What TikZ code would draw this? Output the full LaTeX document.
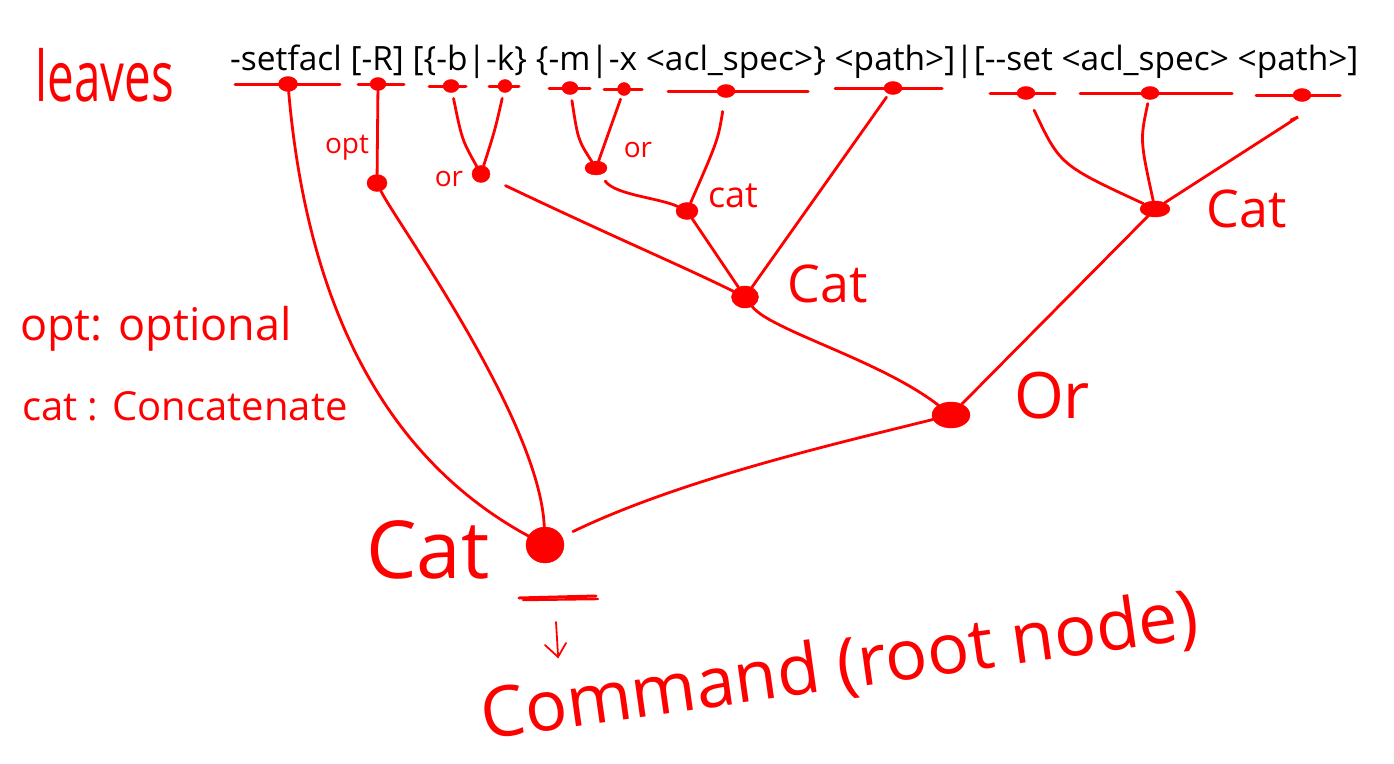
\documentclass[tikz,border=0pt]{standalone}
\usepackage{fontspec}
\setmainfont{Open Sans}
\newfontfamily\codefont{Open Sans}
\usetikzlibrary{calc,shapes.geometric}
\definecolor{ink}{RGB}{255,0,0}

\begin{document}
\begin{tikzpicture}[x=1pt,y=-1pt,
  wire/.style={ink, line width=2.8pt, line cap=round},
  bar/.style={ink, line width=3pt, line cap=round},
  leafdot/.style={ellipse, fill=ink, draw=ink, inner sep=0pt,
                  minimum width=16pt, minimum height=13pt},
  joint/.style={ellipse, fill=ink, draw=ink, inner sep=0pt,
                minimum width=20pt, minimum height=17pt},
  hand/.style={ink, inner sep=0pt, anchor=center}
]
\useasboundingbox[fill=white] (0,0) rectangle (1394,763);

% command line whose tokens are the leaves
\node[anchor=base west, inner sep=0pt] (cmdline) at (230,70)
  {\resizebox{1128pt}{!}{\codefont -setfacl [-R] [\{-b|-k\} \{-m|-x <acl\_spec>\} <path>]|[-{}-set <acl\_spec> <path>]}};

% leaves
\node[leafdot, minimum width=19pt, minimum height=15pt] (L1) at (288,84) {};
\node[leafdot] (L2) at (378,84) {};
\node[leafdot] (L3) at (451,86) {};
\node[leafdot, minimum width=14pt] (L4) at (505,86) {};
\node[leafdot] (L5) at (570,88) {};
\node[leafdot, minimum width=13pt] (L6) at (624,89) {};
\node[leafdot, minimum width=18pt] (L7) at (726,91) {};
\node[leafdot, minimum width=18pt] (L8) at (893,88) {};
\node[leafdot, minimum width=18pt] (L9) at (1026,93) {};
\node[leafdot, minimum width=18pt] (L10) at (1150,93) {};
\node[leafdot, minimum width=18pt] (L11) at (1302,95) {};

% baseline strokes under each leaf
\foreach \n/\a/\b in {L1/53/52, L2/20/26, L3/22/15, L4/16/14, L5/21/20,
                      L6/20/18, L7/58/82, L8/58/49, L9/36/29, L10/70/82, L11/46/38}
  \draw[bar] ($(\n)+(-\a,0)$) -- ($(\n)+(\b,0)$);

% inner nodes
\node[joint] (opt) at (377,183) {};
\node[joint, minimum width=18pt] (or1) at (481,174) {};
\node[joint, minimum width=22pt, minimum height=14pt] (or2) at (596,168) {};
\node[joint, minimum width=22pt] (cat1) at (687,211) {};
\node[joint, minimum width=27pt, minimum height=22pt] (cat2) at (745,297) {};
\node[joint, minimum width=30pt, minimum height=16pt] (catR) at (1155,209) {};
\node[joint, minimum width=38pt, minimum height=26pt] (orN) at (951,415) {};
\node[ellipse, fill=ink, draw=ink, inner sep=0pt, minimum width=38pt,
      minimum height=36pt] (root) at (545,545) {};
\coordinate (hook) at (1298,117);

% connectors
\draw[wire] (L1) .. controls (305,280) and (370,450) .. (root);
\draw[wire] (L2) -- (opt);
\draw[wire] (opt) .. controls (395,220) and (540,420) .. (root);
\draw[wire, shorten <=6pt] (L3) .. controls (462,140) .. (or1);
\draw[wire, shorten <=6pt] (L4) .. controls (495,130) .. (or1);
\draw[wire, shorten <=18pt] (or1) .. controls (620,240) and (680,265) .. (cat2);
\draw[wire, shorten <=6pt] (L5) .. controls (578,140) .. (or2);
\draw[wire, shorten <=4pt] (L6) .. controls (610,130) .. (or2);
\draw[wire, shorten <=8pt] (or2) .. controls (615,195) and (660,198) .. (cat1);
\draw[wire, shorten <=14pt] (L7) .. controls (718,140) .. (cat1);
\draw[wire] (cat1) -- (cat2);
\draw[wire, shorten <=4pt] (L8) -- (cat2);
\draw[wire] (cat2) .. controls (770,330) and (880,360) .. (orN);
\draw[wire, shorten <=12pt] (L9) .. controls (1060,165) .. (catR);
\draw[wire, shorten <=4pt] (L10) .. controls (1140,140) .. (catR);
\draw[wire] (catR) -- (hook) -- ++(-7,3);
\draw[wire] (catR) -- (orN);
\draw[wire, shorten >=12pt] (orN) .. controls (830,445) and (680,480) .. (root);

% marks under the root
\draw[ink, line width=3pt, line cap=round] ($(root)+(-26,53)$) -- ($(root)+(51,51)$);
\draw[ink, line width=2.4pt, line cap=round] ($(root)+(-22,55)$) -- ($(root)+(53,54)$);
\draw[wire, line width=1.8pt] ($(root)+(11,77)$) -- ($(root)+(13,110)$);
\draw[wire, line width=1.8pt] ($(root)+(0,100)$) -- ($(root)+(13,112)$) -- ($(root)+(21,98)$);

% labels
\node[hand, font=\fontsize{56}{58}\selectfont] (leaves) at (105,75) {\scalebox{0.85}[1.25]{leaves}};
\node[hand, font=\fontsize{28}{30}\selectfont] (optlab) at (347,148) {opt};
\node[hand, font=\fontsize{28}{30}\selectfont] (or1lab) at (449,179) {or};
\node[hand, font=\fontsize{28}{30}\selectfont] (or2lab) at (638,150) {or};
\node[hand, font=\fontsize{36}{38}\selectfont] (cat1lab) at (733,196) {cat};
\node[hand, font=\fontsize{52}{54}\selectfont] (cat2lab) at (828,284) {Cat};
\node[hand, font=\fontsize{52}{54}\selectfont] (catRlab) at (1247,209) {Cat};
\node[hand, font=\fontsize{64}{66}\selectfont] (orNlab) at (1052,396) {Or};
\node[hand, font=\fontsize{80}{82}\selectfont] (rootlab) at (428,550) {Cat};
\node[hand, anchor=base west, font=\fontsize{45}{47}\selectfont] (legopt) at (20,340) {opt: optional};
\node[hand, anchor=base west, font=\fontsize{40}{42}\selectfont] (legcat) at (22,420) {cat : Concatenate};
\node[hand, rotate=8, font=\fontsize{70}{72}\selectfont] (cmdlab) at (840,668) {Command (root node)};
\end{tikzpicture}
\end{document}
